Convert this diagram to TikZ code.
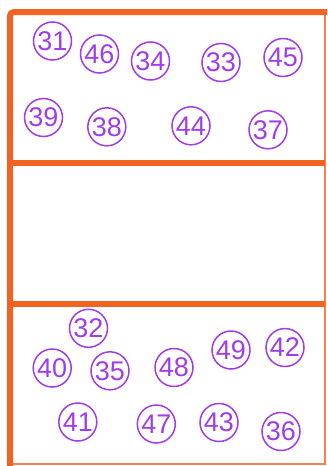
\documentclass[tikz,border=0pt]{standalone}
\usepackage{fontspec}
\setmainfont{Liberation Sans}
\definecolor{frameorange}{RGB}{242,98,34}
\definecolor{ballpurple}{RGB}{160,60,235}
\begin{document}
\begin{tikzpicture}[x=1pt,y=-1pt,
  ball/.style={circle,draw=ballpurple,line width=1.5pt,text=ballpurple,
    minimum size=38pt,inner sep=0pt,font=\fontsize{27}{27}\selectfont},
  thickline/.style={draw=frameorange,line width=6pt},
  thinline/.style={draw=frameorange!80,line width=2pt}]
\useasboundingbox (0,0) rectangle (327,466);
\begin{scope}
\clip (0,0) rectangle (327,466);
% thin right and bottom edges
\draw[thinline] (324.5,12) -- (324.5,464) -- (10,464);
% thick left and top edges with rounded corner
\draw[thickline,rounded corners=4pt] (10,466) -- (10,12) -- (327,12);
% dividers
\draw[thickline] (10,163) -- (324.5,163);
\draw[thickline] (10,303.5) -- (324.5,303.5);
\end{scope}
% top section
\node[ball] (c31) at (52.5,41) {31};
\node[ball] (c46) at (99.5,54) {46};
\node[ball] (c34) at (150.5,61) {34};
\node[ball] (c33) at (221,62.5) {33};
\node[ball] (c45) at (283,57.5) {45};
\node[ball] (c39) at (43.5,117.5) {39};
\node[ball] (c38) at (106.8,126.8) {38};
\node[ball] (c44) at (191,125.8) {44};
\node[ball] (c37) at (268,129.8) {37};
% bottom section
\node[ball] (c32) at (88.5,328.3) {32};
\node[ball] (c40) at (52.2,368) {40};
\node[ball] (c35) at (110,370.8) {35};
\node[ball] (c48) at (174,367.5) {48};
\node[ball] (c49) at (231,350) {49};
\node[ball] (c42) at (285,347.5) {42};
\node[ball] (c41) at (77.8,422) {41};
\node[ball] (c47) at (156.3,424) {47};
\node[ball] (c43) at (219,422.5) {43};
\node[ball] (c36) at (281,431.5) {36};
\end{tikzpicture}
\end{document}
